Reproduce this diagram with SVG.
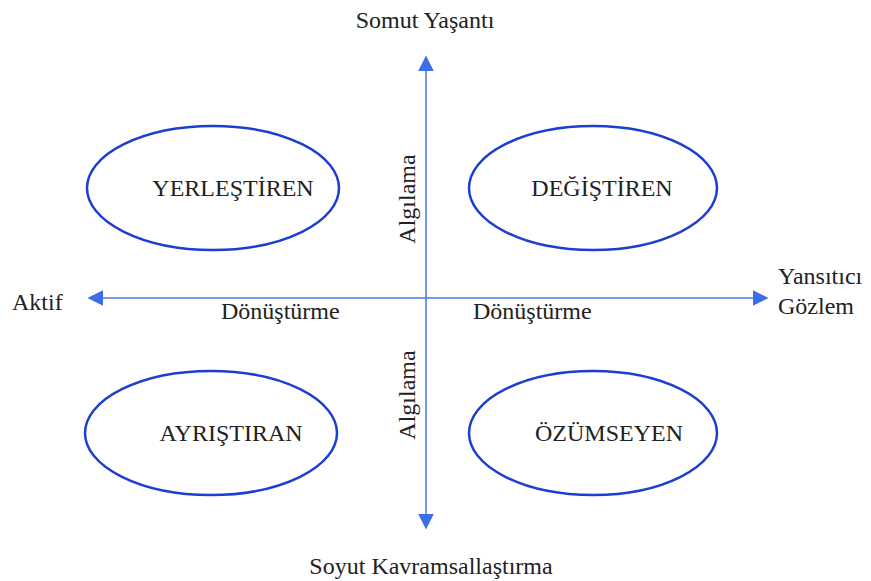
<svg xmlns="http://www.w3.org/2000/svg" width="871" height="581" viewBox="0 0 871 581">
<style>
text{font-family:"Liberation Serif","Times New Roman",serif;font-size:24px;fill:#222}
.node ellipse{fill:none;stroke:#1c3fd0;stroke-width:2.5}
.axis{stroke:#4a78e6;stroke-width:1.5;fill:none}
</style>
<defs>
<marker id="ah" viewBox="0 0 10 10" refX="9" refY="5" markerWidth="16" markerHeight="16" markerUnits="userSpaceOnUse" orient="auto">
<path d="M0,0 L10,5 L0,10 Z" fill="#3d6ee8"/>
</marker>
</defs>
<rect width="871" height="581" fill="#fff"/>
<g id="connectors">
<line class="axis" x1="426" y1="298" x2="426" y2="57" marker-end="url(#ah)"/>
<line class="axis" x1="426" y1="298" x2="426" y2="528" marker-end="url(#ah)"/>
<line class="axis" x1="426" y1="298" x2="89" y2="298" marker-end="url(#ah)"/>
<line class="axis" x1="426" y1="298" x2="767" y2="298" marker-end="url(#ah)"/>
</g>
<g id="n-yerlestiren" class="node"><ellipse cx="213" cy="188" rx="126" ry="62"/><text x="233" y="196" text-anchor="middle">YERLEŞTİREN</text></g>
<g id="n-degistiren" class="node"><ellipse cx="593" cy="188" rx="124" ry="62"/><text x="602" y="196" text-anchor="middle">DEĞİŞTİREN</text></g>
<g id="n-ayristiran" class="node"><ellipse cx="211" cy="433" rx="126" ry="62"/><text x="231" y="441" text-anchor="middle">AYRIŞTIRAN</text></g>
<g id="n-ozumseyen" class="node"><ellipse cx="593" cy="433" rx="124" ry="62"/><text x="609" y="441" text-anchor="middle">ÖZÜMSEYEN</text></g>
<g id="labels">
<text x="425" y="28" text-anchor="middle">Somut Yaşantı</text>
<text x="431" y="574" text-anchor="middle">Soyut Kavramsallaştırma</text>
<text x="12" y="310">Aktif</text>
<text x="778" y="284">Yansıtıcı</text>
<text x="778" y="314">Gözlem</text>
<text x="221" y="319">Dönüştürme</text>
<text x="473" y="319">Dönüştürme</text>
<text transform="translate(415,199) rotate(-90)" text-anchor="middle">Algılama</text>
<text transform="translate(415,395) rotate(-90)" text-anchor="middle">Algılama</text>
</g>
</svg>
